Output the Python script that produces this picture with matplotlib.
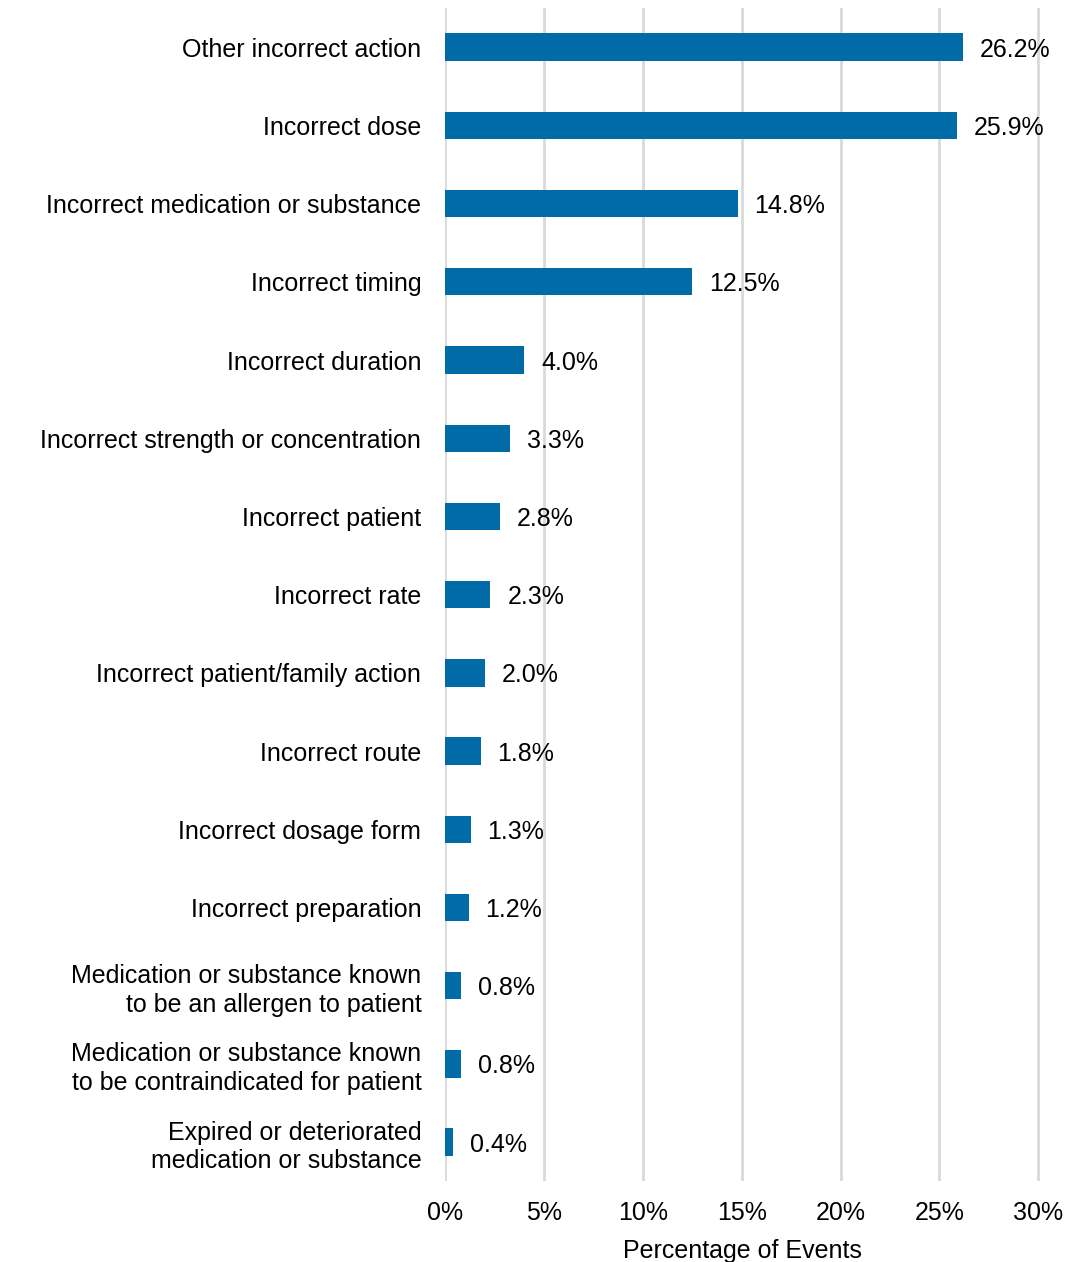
import matplotlib
matplotlib.use("Agg")
import matplotlib.pyplot as plt
from matplotlib.ticker import FuncFormatter

plt.rcParams['font.family'] = ['Liberation Sans', 'DejaVu Sans']

categories = [
    "Other incorrect action",
    "Incorrect dose",
    "Incorrect medication or substance",
    "Incorrect timing",
    "Incorrect duration",
    "Incorrect strength or concentration",
    "Incorrect patient",
    "Incorrect rate",
    "Incorrect patient/family action",
    "Incorrect route",
    "Incorrect dosage form",
    "Incorrect preparation",
    "Medication or substance known\nto be an allergen to patient",
    "Medication or substance known\nto be contraindicated for patient",
    "Expired or deteriorated\nmedication or substance",
]
values = [26.2, 25.9, 14.8, 12.5, 4.0, 3.3, 2.8, 2.3, 2.0, 1.8, 1.3, 1.2, 0.8, 0.8, 0.4]
xticks = [0, 5, 10, 15, 20, 25, 30]

FS = 18

fig = plt.figure(figsize=(10.66, 12.62), dpi=100)
ax = fig.add_axes([0.4174, 0.064, 0.5582, 0.9296])

ypos = list(range(len(categories)))
ax.barh(ypos, values, height=0.35, color="#006ba6", zorder=3)

# value labels just right of each bar
for y, v in zip(ypos, values):
    ax.text(v + 0.85, y, f"{v:.1f}%", va="center_baseline", ha="left",
            fontsize=FS, color="black")

ax.set_ylim(len(categories) - 0.5, -0.5)
ax.set_xlim(0, 30.08)
ax.set_yticks(ypos)
ax.set_yticklabels(categories, fontsize=FS, linespacing=1.25, ha="right")
ax.set_xticks(xticks)
ax.xaxis.set_major_formatter(FuncFormatter(lambda x, p: f"{x:.0f}%"))
ax.tick_params(axis="x", labelsize=FS, length=0, pad=14)
ax.tick_params(axis="y", length=0, pad=17)
ax.grid(axis="x", color="#d9d9d9", linewidth=2, zorder=0)
for s in ax.spines.values():
    s.set_visible(False)
ax.set_xlabel("Percentage of Events", fontsize=FS, labelpad=10)

fig.savefig("out.png", dpi=100)
